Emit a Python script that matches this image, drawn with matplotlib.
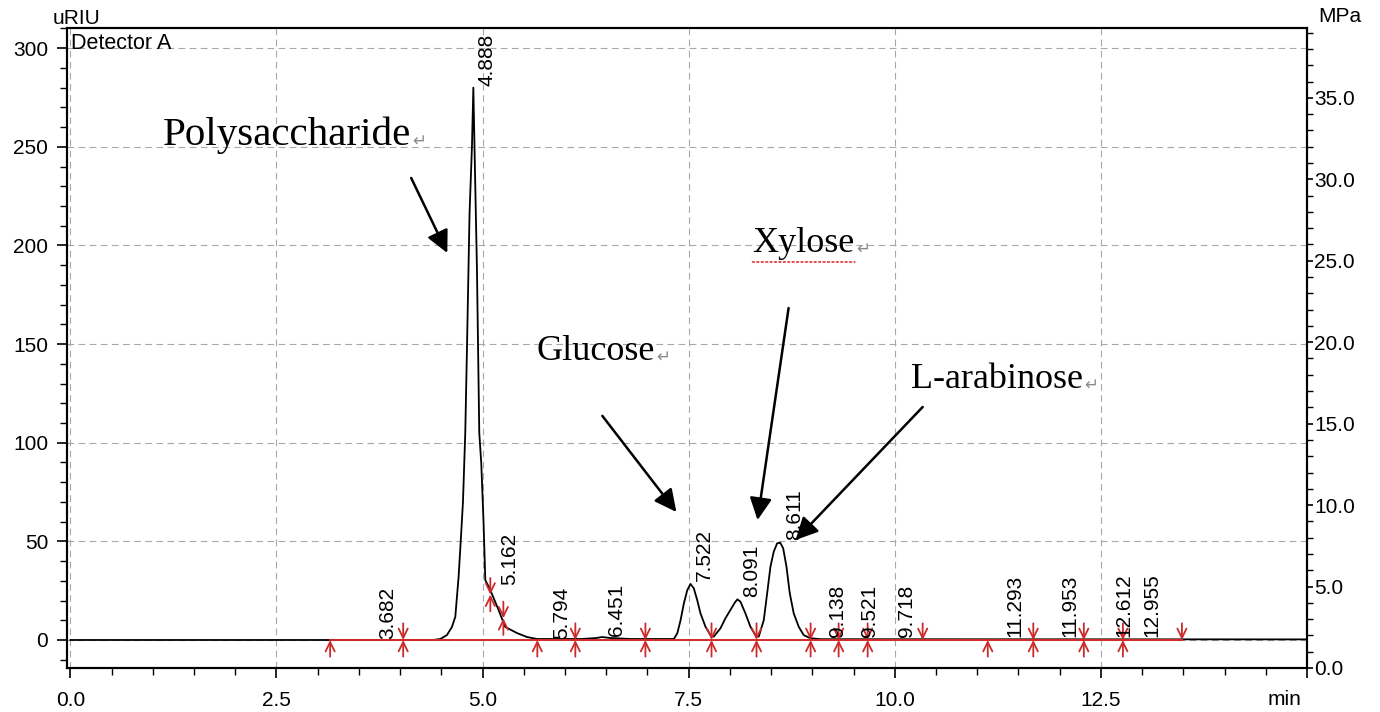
import matplotlib
matplotlib.use('Agg')
from matplotlib import pyplot as plt
from matplotlib.ticker import MultipleLocator, FuncFormatter, FormatStrFormatter

# chromatogram trace (min, uRIU)
time = [0.0, 4.40, 4.487, 4.568, 4.628, 4.669, 4.709, 4.738, 4.762, 4.790, 4.811,
        4.842, 4.871, 4.888, 4.903, 4.932, 4.960, 4.984, 5.012, 5.033, 5.094,
        5.194, 5.275, 5.418, 5.539, 5.661, 6.20, 6.38, 6.45, 6.55, 6.80,
        7.32, 7.362, 7.402, 7.442, 7.483, 7.522, 7.562, 7.603, 7.643, 7.704,
        7.764, 7.804, 7.885, 7.946, 8.006, 8.060, 8.091, 8.128, 8.188, 8.249,
        8.309, 8.350, 8.411, 8.452, 8.492, 8.532, 8.573, 8.611, 8.646, 8.686,
        8.726, 8.774, 8.835, 8.895, 8.976, 9.10, 15.0]
signal = [0.0, 0.0, 0.5, 2.5, 6.6, 11.7, 31.9, 52.2, 69.9, 104.9, 148.5,
          216.4, 250.0, 280.0, 248.0, 187.5, 104.9, 89.7, 59.3, 30.4, 25.3,
          15.2, 6.6, 3.5, 1.5, 0.5, 0.5, 1.0, 1.5, 1.0, 0.5,
          0.5, 3.4, 10.1, 18.6, 25.3, 28.4, 26.2, 20.3, 13.5, 6.7,
          2.5, 1.7, 5.9, 11.0, 15.2, 19.0, 20.6, 19.4, 13.5, 6.7,
          2.5, 1.7, 10.1, 23.7, 37.2, 44.8, 49.0, 49.3, 46.5, 37.2,
          23.7, 13.5, 6.7, 2.5, 0.9, 0.4, 0.3]

# integration marks (time, level, kind)
mark_time = [3.151, 4.037, 5.094, 5.252, 5.664, 6.125, 6.975, 7.777, 8.323,
             8.979, 9.319, 9.671, 10.338, 11.128, 11.680, 12.293, 12.767, 13.483]
mark_level = [0, 0, 23, 11, 0, 0, 0, 0, 0, 0, 0, 0, 0, 0, 0, 0, 0, 0]
mark_kind = ['up', 'both', 'both', 'both', 'up', 'both', 'both', 'both', 'both',
             'both', 'both', 'both', 'down', 'up', 'both', 'both', 'both', 'down']

# retention time labels and the height they sit at
peak_rt = ['3.682', '4.888', '5.162', '5.794', '6.451', '7.522', '8.091', '8.611',
           '9.138', '9.521', '9.718', '11.293', '11.953', '12.612', '12.955']
peak_h = [0, 280, 27, 0, 1.5, 29, 21, 50, 1, 1, 1, 1, 1, 1, 1]

# compound names: text anchor (left, centre) and arrow tail / tip
names = ['Polysaccharide', 'Glucose', 'Xylose', 'L-arabinose']
name_x = [1.123, 5.652, 8.275, 10.193]
name_y = [256, 146, 201, 132]
name_size = [29.5, 26, 26, 26]
arrow_from = [(4.134, 234.2), (6.453, 113.6), (8.712, 168.3), (10.338, 118.1)]
arrow_to = [(4.572, 196.2), (7.351, 64.9), (8.335, 60.8), (8.797, 50.7)]

sans = 'Liberation Sans'
serif = 'Liberation Serif'
plt.rcParams['font.family'] = [sans, 'DejaVu Sans']
plt.rcParams['font.size'] = 15

fig = plt.figure(figsize=[13.8, 7.12], dpi=100)
ax = fig.add_axes([0.0486, 0.0618, 0.8985, 0.8985])
ax2 = ax.twinx()

ax.set_xlim(-0.04, 15.0)
ax.set_ylim(-14.2, 310.1)
ax2.set_ylim(0, 39.27)

# grid
ax.grid(True, which='major', color='#a8a8a8', linestyle=(0, (6, 4)), linewidth=0.8)
ax.set_axisbelow(True)

# trace
ax.plot(time, signal, color='black', linewidth=1.3, zorder=3)

# red baseline and marks
ax.plot([mark_time[0], mark_time[-1]], [0, 0], color='#d42a2a', linewidth=1.4, zorder=4)
aprops = dict(arrowstyle='->,head_length=0.45,head_width=0.22', color='#cc2a2a',
              linewidth=1.3, shrinkA=0, shrinkB=0)
for t, lv, k in zip(mark_time, mark_level, mark_kind):
    if k in ('up', 'both'):
        ax.annotate('', xy=(t, lv), xytext=(0, -12), textcoords='offset points',
                    arrowprops=aprops, zorder=5)
    if k in ('down', 'both'):
        ax.annotate('', xy=(t, lv), xytext=(0, 12), textcoords='offset points',
                    arrowprops=aprops, zorder=5)

# retention time labels (the 9.718 one sits further right in the original)
for rt, h in zip(peak_rt, peak_h):
    dx = 25 if rt == '9.718' else 10
    ax.annotate(rt, xy=(float(rt), h), xytext=(dx, 1), textcoords='offset points',
                rotation=90, ha='center', va='bottom', fontsize=15, zorder=6)

# compound names with arrows
for nm, x, y, fs, a0, a1 in zip(names, name_x, name_y, name_size, arrow_from, arrow_to):
    txt = ax.text(x, y, nm, family=serif, fontsize=fs, ha='left', va='center', zorder=7)
    ax.annotate('\u21b5', xy=(1, 0.35), xycoords=txt, xytext=(1, 0),
                textcoords='offset points', ha='left', va='center',
                fontsize=12, color='#8a8a8a', family='DejaVu Sans')
    if nm == 'Xylose':
        ax.annotate('', xy=(1.0, -0.06), xycoords=txt, xytext=(0.0, -0.06), textcoords=txt,
                    arrowprops=dict(arrowstyle='-', color='#e03030', linestyle=':',
                                    linewidth=1.2, shrinkA=0, shrinkB=0))
    ax.annotate('', xy=a1, xytext=a0,
                arrowprops=dict(arrowstyle='-|>,head_length=0.9,head_width=0.45',
                                color='black', linewidth=1.8, shrinkA=0, shrinkB=0))

# axes, ticks
ax.xaxis.set_major_locator(MultipleLocator(2.5))
ax.xaxis.set_minor_locator(MultipleLocator(0.5))
ax.xaxis.set_major_formatter(FuncFormatter(lambda v, p: '' if v > 14 else '%.1f' % v))
ax.yaxis.set_major_locator(MultipleLocator(50))
ax.yaxis.set_minor_locator(MultipleLocator(10))
ax2.yaxis.set_major_locator(MultipleLocator(5))
ax2.yaxis.set_minor_locator(MultipleLocator(1))
ax2.yaxis.set_major_formatter(FormatStrFormatter('%.1f'))

ax.tick_params(axis='both', which='major', direction='out', length=7.5, width=1.2, pad=6)
ax.tick_params(axis='both', which='minor', direction='out', length=5, width=1.0)
ax.tick_params(axis='x', which='major', pad=9)
ax2.tick_params(axis='y', which='major', direction='out', length=4, width=1.2, pad=1)
ax2.tick_params(axis='y', which='minor', direction='out', length=4, width=1.0)

for a in (ax, ax2):
    for s in a.spines.values():
        s.set_linewidth(1.5)
        s.set_color('black')

fig.text(0.0384, 0.9747, 'uRIU', ha='left', va='center', fontsize=15)
fig.text(0.955, 0.9775, 'MPa', ha='left', va='center', fontsize=15)
fig.text(0.9188, 0.0169, 'min', ha='left', va='center', fontsize=15)
fig.text(0.0515, 0.9396, 'Detector A', ha='left', va='center', fontsize=15.5)

fig.savefig('out.png', dpi=100)
